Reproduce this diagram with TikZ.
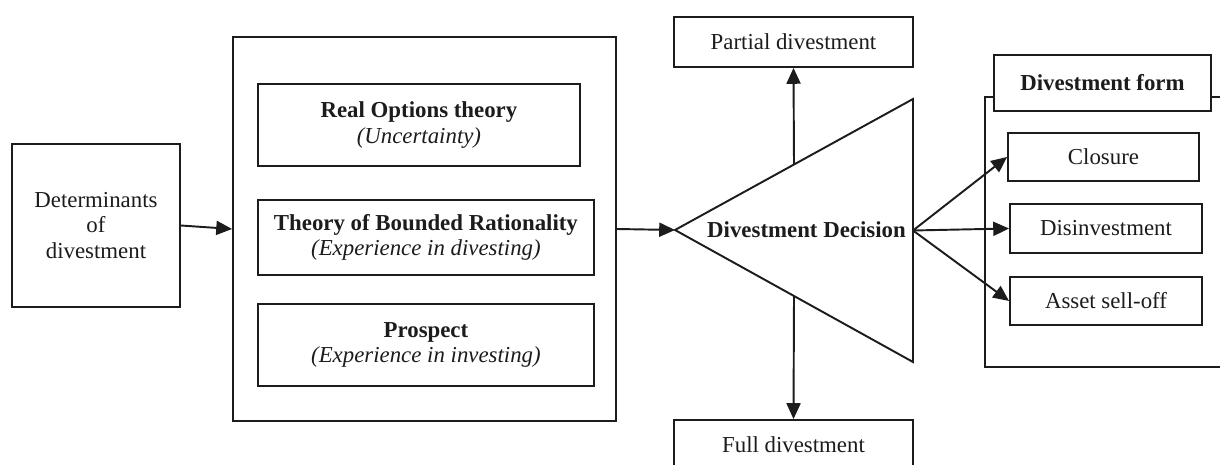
\documentclass[tikz,border=0pt]{standalone}
\usepackage{fontspec}
\setmainfont{Liberation Serif}
\usetikzlibrary{arrows.meta, positioning, calc}
\definecolor{lineblack}{RGB}{28,28,28}

\begin{document}
\begin{tikzpicture}[x=0.02cm, y=-0.02cm, color=lineblack, line width=1.1pt,
        >={Triangle[length=9pt, width=8pt]},
        every node/.style={font=\fontsize{13}{14.5}\selectfont},
        plainbox/.style={draw, line width=1.1pt, fill=white, align=center, inner sep=0pt},
        flow/.style={->, line width=1.1pt}]
        \useasboundingbox (0,0) rectangle (1220,465);

        \node[plainbox, minimum width=3.36cm, minimum height=3.26cm] (determinants) at (96,225.5) {Determinants\\of\\divestment};
        \node[plainbox, minimum width=7.66cm, minimum height=7.68cm] (theories) at (424.5,229) {};
        \node[plainbox, minimum width=6.44cm, minimum height=1.64cm, anchor=north west] (realopt) at (257,83) {\textbf{Real Options theory}\\\textit{(Uncertainty)}};
        \node[plainbox, minimum width=6.72cm, minimum height=1.5cm, below right=0.64cm and 0cm of realopt.south west] (bounded) {\textbf{Theory of Bounded Rationality}\\\textit{(Experience in divesting)}};
        \node[plainbox, minimum width=6.72cm, minimum height=1.64cm, below right=0.54cm and 0cm of bounded.south west] (prospect) {\textbf{Prospect}\\\textit{(Experience in investing)}};

        \coordinate (apex) at (675,230);
        \coordinate (tipup) at (913,99);
        \coordinate (tipdown) at (913,362);
        \coordinate (tipmid) at ($(tipup)!0.5!(tipdown)$);
        \draw (apex) -- (tipup) -- (tipdown) -- cycle;
        \node (decision) at (806.5,230) {\textbf{Divestment Decision}};

        \node[plainbox, minimum width=4.78cm, minimum height=1cm] (partial) at (793.5,42) {Partial divestment};
        \node[plainbox, minimum width=4.78cm, minimum height=1cm] (full) at (793.5,445) {Full divestment};

        \node[plainbox, minimum width=5.1cm, minimum height=5.4cm] (formframe) at (1112.5,232) {};
        \node[plainbox, minimum width=4.34cm, minimum height=1.12cm] (formhead) at (1102.5,83) {\textbf{Divestment form}};
        \node[plainbox, minimum width=3.82cm, minimum height=0.96cm] (closure) at (1103.5,157) {Closure};
        \node[plainbox, minimum width=3.84cm, minimum height=0.98cm] (disinvest) at (1106,228.5) {Disinvestment};
        \node[plainbox, minimum width=3.84cm, minimum height=0.96cm] (selloff) at (1106,301) {Asset sell-off};

        \draw[flow] (determinants.east) -- (theories.west);
        \draw[flow] (theories.east) -- (apex);
        \draw[flow] ($(apex)!0.5!(tipup)$) -- (partial.south);
        \draw[flow] ($(apex)!0.5!(tipdown)$) -- (full.north);
        \draw[flow] (tipmid) -- (closure.west);
        \draw[flow] (tipmid) -- (disinvest.west);
        \draw[flow] (tipmid) -- (selloff.west);
    \end{tikzpicture}
\end{document}
